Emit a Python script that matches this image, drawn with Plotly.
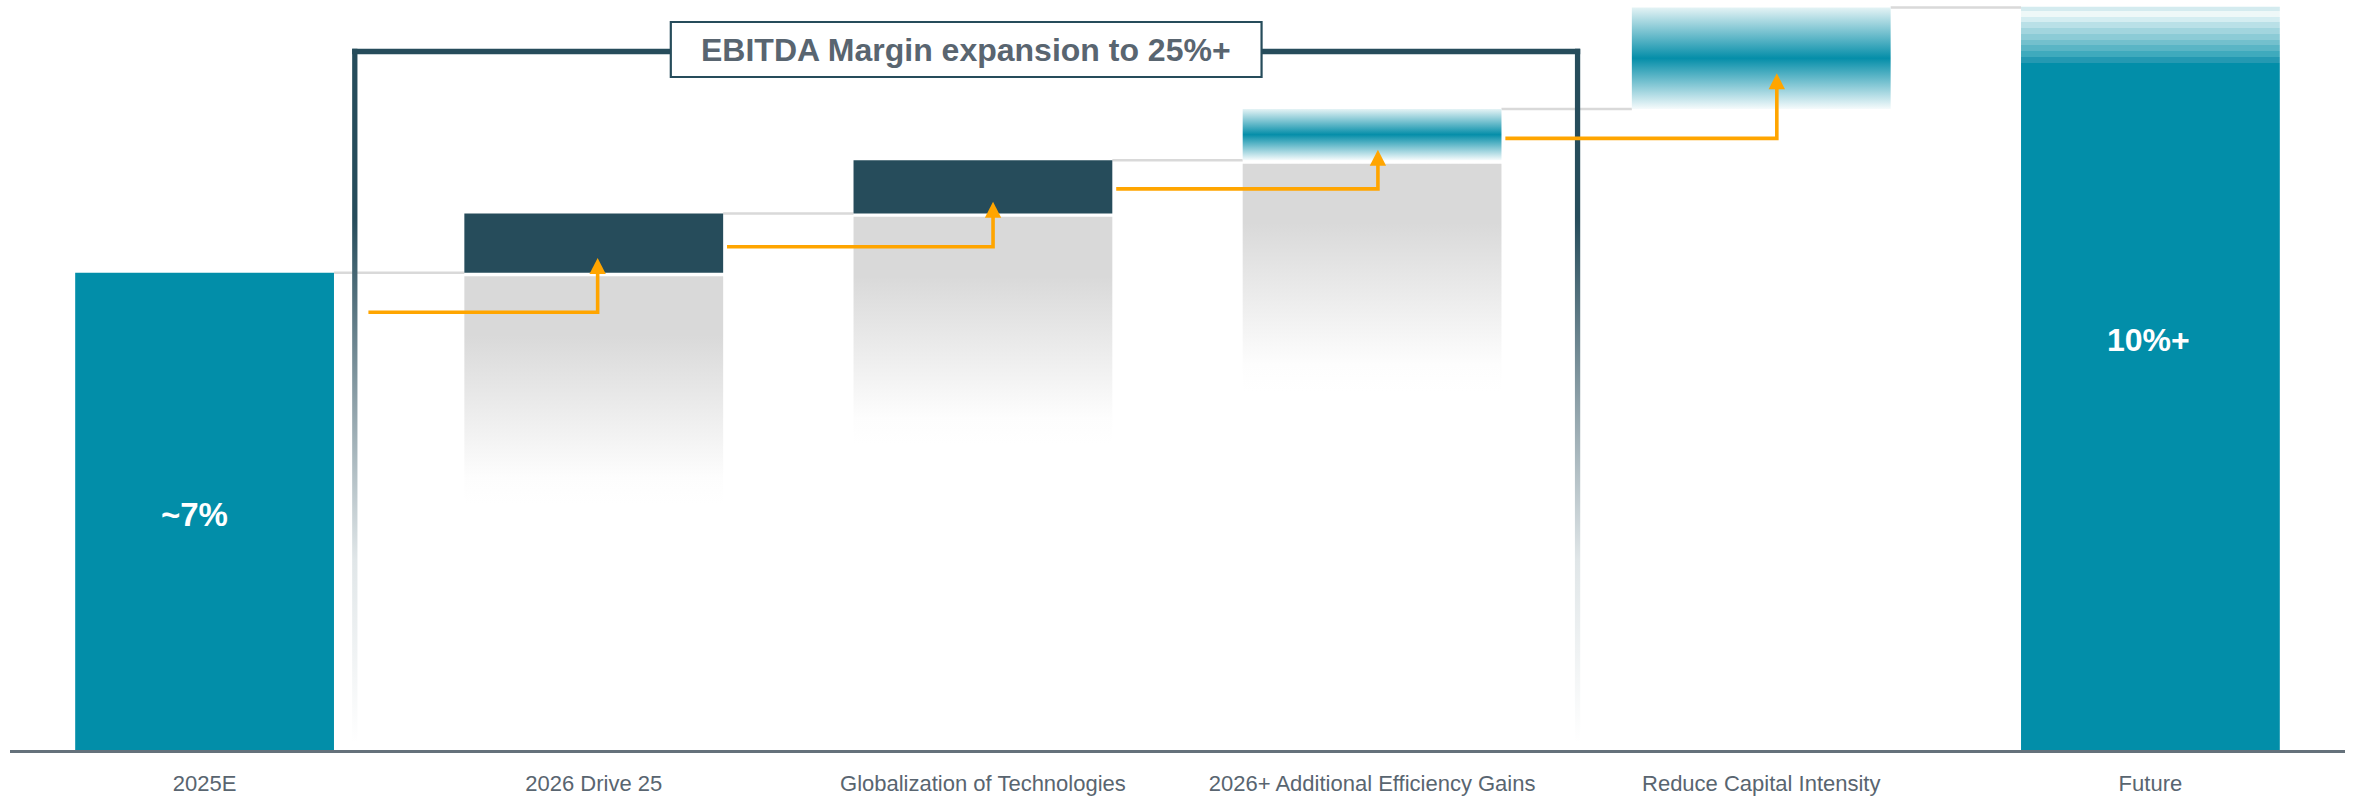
import plotly.graph_objects as go

# ---------------- data ----------------
categories = ["2025E", "2026 Drive 25", "Globalization of Technologies",
              "2026+ Additional Efficiency Gains", "Reduce Capital Intensity", "Future"]
start_value = 7.0
step_values = [0.87, 0.78, 0.75, 1.49]
future_value = 10.9
start_label = "~7%"
future_label = "10%+"
title_text = "EBITDA Margin expansion to 25%+"

# ---------------- style ----------------
TEAL = "#028ea9"
DARK = "#264c5b"
GREY = "#d9d9d9"
ORANGE = "#ffa500"
CONNECT = "#d9d9d9"
TEXT = "#596570"
FONT = "Liberation Sans, Arial, sans-serif"

BAR_W = 0.665
HALF = BAR_W / 2
step_styles = ["dark", "dark", "teal", "teal"]
step_shadow = [True, True, True, False]
SHADOW_GAP = 0.05
SHADOW_H = 3.35
arrow_drop = [0.58, 0.49, 0.42, 0.43]
arrow_dx = [0.01, 0.026, 0.015, 0.04]
head_w = 0.021
head_h = 0.235
bracket_left, bracket_right, bracket_y = 0.386, 3.528, 10.245
bracket_hw = 0.0068
bracket_ht = 0.039
box_halfw, box_y0, box_y1 = 0.759, 9.871, 10.677
YMAX = 11.0

fig = go.Figure()


def poly(x0, x1, y0, y1, **kw):
    fig.add_trace(go.Scatter(x=[x0, x1, x1, x0, x0], y=[y0, y0, y1, y1, y0],
                             mode="lines", fill="toself", line=dict(width=0),
                             hoverinfo="skip", showlegend=False, **kw))


n = len(categories)
xs = list(range(n))
levels = [start_value]
for d in step_values:
    levels.append(levels[-1] + d)

# grey shadows under step bars
for i, d in enumerate(step_values):
    if step_shadow[i]:
        x = xs[i + 1]
        top = levels[i] - SHADOW_GAP
        bot = top - SHADOW_H
        poly(x - HALF, x + HALF, bot, top,
             fillgradient=dict(type="vertical", start=bot, stop=top,
                               colorscale=[[0, "#ffffff"], [0.12, "#fdfdfd"],
                                           [0.74, GREY], [1, GREY]]))

# connectors
for i in range(n - 1):
    lvl = levels[i]
    fig.add_trace(go.Scatter(x=[xs[i] + HALF, xs[i + 1] - HALF], y=[lvl, lvl],
                             mode="lines", line=dict(color=CONNECT, width=2.5),
                             hoverinfo="skip", showlegend=False))

# start bar
poly(xs[0] - HALF, xs[0] + HALF, 0, start_value, fillcolor=TEAL)

# step bars
for i, d in enumerate(step_values):
    x = xs[i + 1]
    b, t = levels[i], levels[i + 1]
    if step_styles[i] == "dark":
        poly(x - HALF, x + HALF, b, t, fillcolor=DARK)
    else:
        poly(x - HALF, x + HALF, b, t,
             fillgradient=dict(type="vertical", start=b, stop=t,
                               colorscale=[[0, "#f6fbfc"], [0.5, "#058ea9"], [1, "#e4f3f5"]]))

# future bar with striped top
solid_top = 10.08
stripe_colors = ["#2499b2", "#3faabd", "#5ab5c5", "#73c0cd", "#8ccbd6",
                 "#a2d5de", "#b9e0e7", "#d4edf1", "#eef8f8", "#d4ebef"]
weights = [1] * 9 + [0.7]
p0 = solid_top / future_value
span = 1 - p0
cs = [[0, TEAL], [p0, TEAL]]
acc = p0
tw = sum(weights)
for c, w in zip(stripe_colors, weights):
    nxt = min(1.0, acc + span * w / tw)
    cs.append([acc + 1e-4, c])
    cs.append([nxt, c])
    acc = nxt
cs[-1][0] = 1
poly(xs[-1] - HALF, xs[-1] + HALF, 0, future_value,
     fillgradient=dict(type="vertical", start=0, stop=future_value, colorscale=cs))

# bracket verticals (fading)
for bx in (bracket_left, bracket_right):
    poly(bx - bracket_hw, bx + bracket_hw, 0.1, bracket_y + bracket_ht,
         fillgradient=dict(type="vertical", start=0.1, stop=7.8,
                           colorscale=[[0, "#ffffff"], [0.35, "#e0e6e8"],
                                       [0.65, "#8da0a8"], [1, DARK]]))
# bracket horizontal
poly(bracket_left - bracket_hw, bracket_right + bracket_hw,
     bracket_y - bracket_ht, bracket_y + bracket_ht, fillcolor=DARK)

# orange arrows
for i, d in enumerate(step_values):
    x = xs[i + 1] + arrow_dx[i]
    prev = levels[i]
    mid = (levels[i] + levels[i + 1]) / 2
    tip = mid - 0.22
    yh = prev - arrow_drop[i]
    xstart = (bracket_left + 0.035) if i == 0 else (xs[i] + HALF + 0.01)
    fig.add_trace(go.Scatter(x=[xstart, x, x], y=[yh, yh, tip - head_h + 0.02],
                             mode="lines", line=dict(color=ORANGE, width=3.6),
                             hoverinfo="skip", showlegend=False))
    fig.add_trace(go.Scatter(x=[x - head_w, x + head_w, x, x - head_w],
                             y=[tip - head_h, tip - head_h, tip, tip - head_h],
                             mode="lines", fill="toself", fillcolor=ORANGE,
                             line=dict(width=0), hoverinfo="skip", showlegend=False))

# title box
bc = (bracket_left + bracket_right) / 2
fig.add_shape(type="rect", x0=bc - box_halfw, x1=bc + box_halfw, y0=box_y0, y1=box_y1,
              xref="x", yref="y", line=dict(color=DARK, width=2.2),
              fillcolor="white", layer="above")
fig.add_annotation(x=bc, y=(box_y0 + box_y1) / 2, text="<b>" + title_text + "</b>",
                   showarrow=False, font=dict(family=FONT, size=32, color=TEXT),
                   xanchor="center", yanchor="middle")

# value labels
fig.add_annotation(x=xs[0], y=3.45, text="<b>" + start_label + "</b>", showarrow=False,
                   xshift=-10, font=dict(family=FONT, size=33, color="white"))
fig.add_annotation(x=xs[-1], y=6.02, text="<b>" + future_label + "</b>", showarrow=False,
                   xshift=-2, font=dict(family=FONT, size=32, color="white"))

fig.update_layout(
    width=2356, height=796,
    margin=dict(l=10, r=11, t=0, b=46),
    paper_bgcolor="white", plot_bgcolor="white",
    showlegend=False,
    xaxis=dict(range=[-0.5, n - 0.5], tickmode="array", tickvals=xs, ticktext=categories,
               showgrid=False, zeroline=False, showline=True, linecolor="#65717b",
               linewidth=2.5, ticks="", ticklabelstandoff=12,
               tickfont=dict(family=FONT, size=22, color=TEXT),
               fixedrange=True),
    yaxis=dict(range=[0, YMAX], visible=False, showgrid=False, zeroline=False,
               fixedrange=True),
)

fig.write_html("out.html", config={"displayModeBar": False, "staticPlot": True})
